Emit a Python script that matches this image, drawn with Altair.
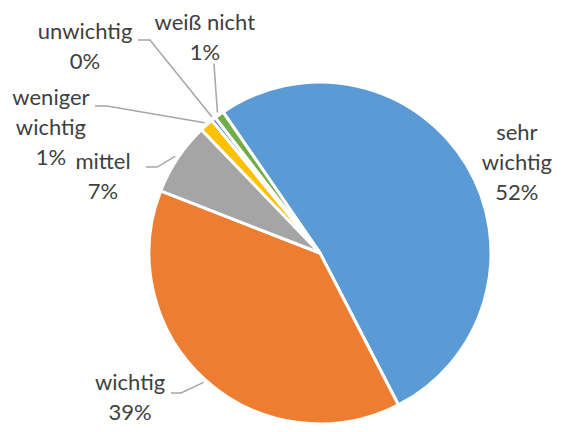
import math
import altair as alt
import pandas as pd

# ---- data ----
categories = ["sehr wichtig", "wichtig", "mittel", "weniger wichtig", "unwichtig", "weiß nicht"]
values = [52.0, 38.5, 6.9, 1.3, 0.4, 0.9]
pct_labels = ["52%", "39%", "7%", "1%", "0%", "1%"]
label_lines = ["sehr\nwichtig", "wichtig", "mittel", "weniger\nwichtig", "unwichtig", "weiß nicht"]
colors = ["#5B9BD5", "#ED7D31", "#A5A5A5", "#FFC000", "#4472C4", "#70AD47"]

# ---- layout (pixels in chart space) ----
W, H = 545, 416
CX, CY = 312, 245
R = 171
START_DEG = -34.5

# label placement of first text line (polar, degrees clockwise from 12 o'clock, pixel radius)
lbl_angle = [58.6, 235.6, 292.75, 299.95, 313.25, 333.4]
lbl_radius = [230.7, 230.2, 235.3, 310.5, 322.6, 257.2]
# leader lines: elbow (polar) and horizontal tail length; None = no leader
elbow_angle = [None, 224.8, 297.8, 304.6, 321.4, 330.75]
elbow_radius = [None, 197.3, 184.3, 258.8, 272.5, 217.0]
tail_len = [0, -10, -11, -12, -12, 0]


def polar(a_deg, r):
    a = math.radians(a_deg)
    return CX + r * math.sin(a), CY - r * math.cos(a)


total = sum(values)
mids = []
acc = START_DEG
for v in values:
    span = v / total * 360
    mids.append(acc + span / 2)
    acc += span

pie_df = pd.DataFrame({"cat": categories, "value": values, "idx": range(len(values))})

text_rows = []
for i, c in enumerate(categories):
    x, y = polar(lbl_angle[i], lbl_radius[i])
    text_rows.append({"cat": c, "x": x, "y": y, "txt": label_lines[i] + "\n" + pct_labels[i]})
text_df = pd.DataFrame(text_rows)

line_rows = []
for i, c in enumerate(categories):
    if elbow_angle[i] is None:
        continue
    ex, ey = polar(elbow_angle[i], elbow_radius[i])
    sx, sy = ex + tail_len[i], ey
    tx, ty = polar(mids[i], R + 3)
    pts = [(sx, sy), (ex, ey), (tx, ty)] if tail_len[i] else [(ex, ey), (tx, ty)]
    for k, (px, py) in enumerate(pts):
        line_rows.append({"cat": c, "k": k, "x": px, "y": py})
line_df = pd.DataFrame(line_rows)

start = math.radians(START_DEG)
pie = alt.Chart(pie_df).mark_arc(outerRadius=R, stroke="white", strokeWidth=3).encode(
    theta=alt.Theta("value:Q", stack=True, scale=alt.Scale(range=[start, start + 2 * math.pi])),
    color=alt.Color("cat:N", scale=alt.Scale(domain=categories, range=colors), legend=None),
    order=alt.Order("idx:Q"),
    x=alt.value(CX),
    y=alt.value(CY),
)

leaders = alt.Chart(line_df).mark_line(color="#A6A6A6", strokeWidth=1.5).encode(
    x=alt.X("x:Q", scale=None, axis=None),
    y=alt.Y("y:Q", scale=None, axis=None),
    detail="cat:N",
    order="k:Q",
)

labels = alt.Chart(text_df).mark_text(
    lineBreak="\n", font="Lato", fontSize=22, lineHeight=30, color="#404040",
    align="center", baseline="middle",
).encode(
    x=alt.X("x:Q", scale=None, axis=None),
    y=alt.Y("y:Q", scale=None, axis=None),
    text="txt:N",
)

chart = alt.layer(pie, leaders, labels).properties(
    width=W, height=H, autosize=alt.AutoSizeParams(type="none"), padding=0
).configure_view(stroke=None)

chart.save("out.html", embed_options={"renderer": "svg", "actions": False})
